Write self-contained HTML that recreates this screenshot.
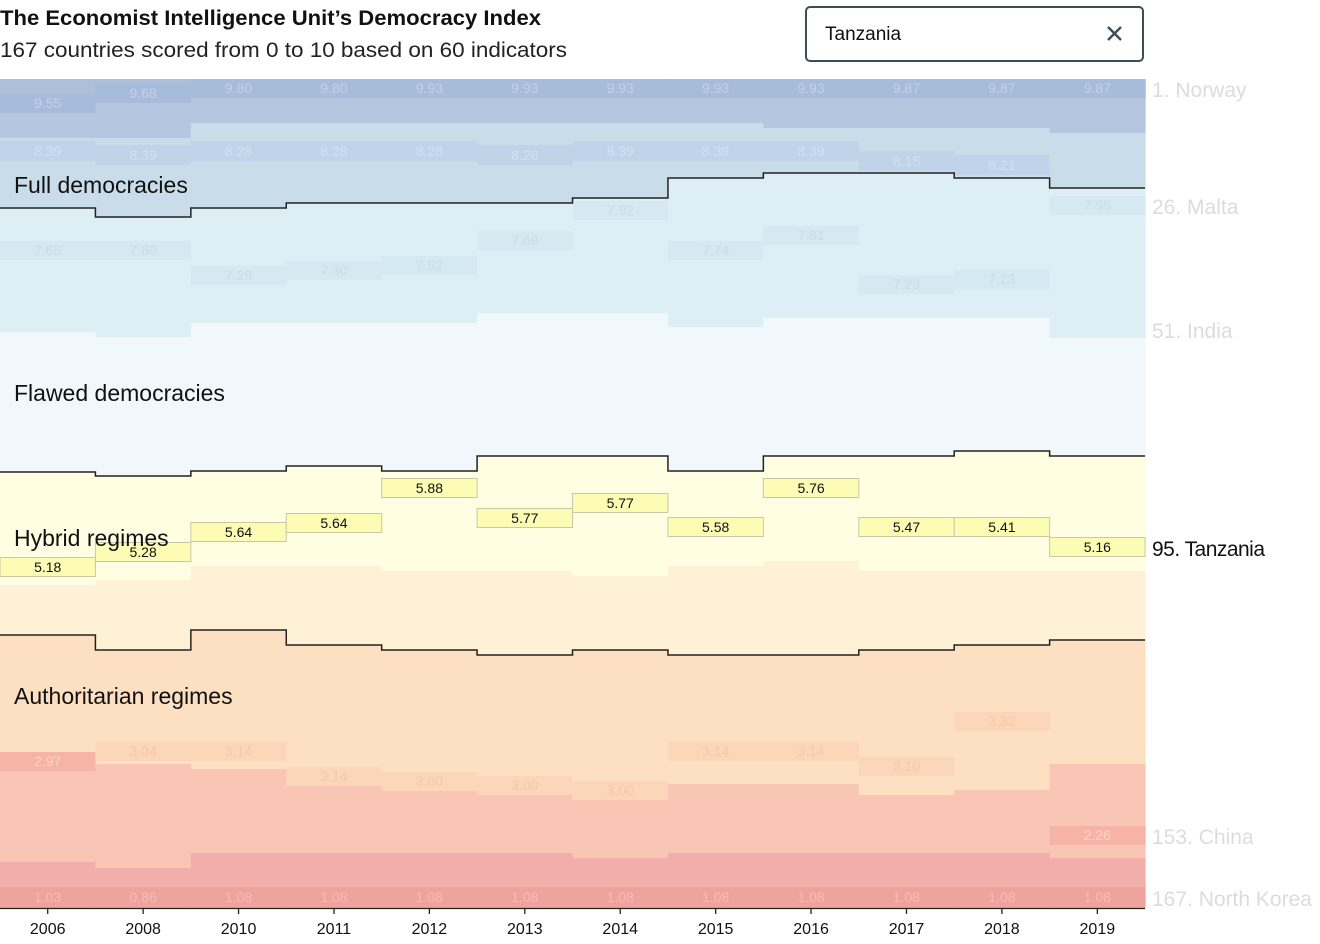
<!DOCTYPE html>
<html><head><meta charset="utf-8"><style>
body{margin:0;background:#fff;width:1320px;height:944px;overflow:hidden;font-family:"Liberation Sans",sans-serif}
svg{position:absolute;left:0;top:0}
</style></head><body>
<svg id="s" width="1320" height="944" xmlns="http://www.w3.org/2000/svg"></svg>
<script>
const W=95.42;
const fd=[208,217,208,203,203,203,198,178,173,173,178,188];
const de=[332,337,323,323,323,313,313,327,318,318,318,338];
const fh=[472,476,471,466,471,456,456,471,456,456,451,456];
const fg=[585,580,566,566,571,571,576,566,561,571,571,571];
const tz=[567,552,532,523,488,518,503,527,488,527,527,547];
const tzv=["5.18","5.28","5.64","5.64","5.88","5.77","5.77","5.58","5.76","5.47","5.41","5.16"];
const ha=[635,650,630,645,650,655,650,655,655,650,645,640];
const hi=[771,764,769,785,786,792,800,784,784,795,790,764];
const ij=[862,868,853,853,853,853,858,853,853,853,853,858];
const ab=[113,103,98,98,98,98,98,98,98,98,98,98];
const bc=[138,138,123,123,123,123,123,123,128,128,128,133];
const nr=[[94,"9.55"],[84,"9.68"],[79,"9.80"],[79,"9.80"],[79,"9.93"],[79,"9.93"],[79,"9.93"],[79,"9.93"],[79,"9.93"],[79,"9.87"],[79,"9.87"],[79,"9.87"]];
const cr=[[141,"8.39"],[145,"8.39"],[141,"8.28"],[141,"8.28"],[141,"8.28"],[145,"8.28"],[141,"8.39"],[141,"8.39"],[141,"8.39"],[151,"8.15"],[155,"8.21"],null];
const dr=[[241,"7.68"],[241,"7.80"],[266,"7.28"],[261,"7.30"],[256,"7.52"],[231,"7.69"],[201,"7.92"],[241,"7.74"],[226,"7.81"],[275,"7.23"],[270,"7.23"],[196,"7.95"]];
const hr=[[752,"2.97",'#f6b4a6'],[742,"3.04",'#fcd6b8'],[742,"3.14",'#fcd6b8'],[767,"3.14",'#fcd6b8'],[772,"3.00",'#fcd6b8'],[776,"3.00",'#fcd6b8'],[781,"3.00",'#fcd6b8'],[742,"3.14",'#fcd6b8'],[742,"3.14",'#fcd6b8'],[757,"3.10",'#fcd6b8'],[712,"3.32",'#fcd6b8'],[826,"2.26",'#f6b4a6']];
const nk=["1.03","0.86","1.08","1.08","1.08","1.08","1.08","1.08","1.08","1.08","1.08","1.08"];
const yrs=["2006","2008","2010","2011","2012","2013","2014","2015","2016","2017","2018","2019"];
let h='';
function R(x,y,w,hh,c,extra=''){h+=`<rect x="${x}" y="${y}" width="${w}" height="${hh}" fill="${c}" ${extra}/>`;}
function T(x,y,t,c,sz=14,a='middle',ex=''){h+=`<text x="${x}" y="${y}" fill="${c}" font-size="${sz}" text-anchor="${a}" font-family="Liberation Sans, sans-serif" ${ex}>${t}</text>`;}
for(let i=0;i<12;i++){
 const x=i*W,w=W+0.6;
 R(x,79,w,ab[i]-79,'#aebfdc');
 R(x,nr[i][0],w,19,'#a7bbda');
 R(x,ab[i],w,bc[i]-ab[i],'#b5c6e0');
 R(x,bc[i],w,fd[i]-bc[i],'#c9dcea');
 if(cr[i])R(x,cr[i][0],w,20,'#bfd4e9');
 R(x,fd[i],w,de[i]-fd[i],'#ddeef5');
 R(x,dr[i][0],w,19,'#d4e9f1');
 R(x,de[i],w,fh[i]-de[i],'#f1f8fb');
 R(x,fh[i],w,fg[i]-fh[i],'#fffee2');
 R(x,fg[i],w,ha[i]-fg[i],'#fff1d6');
 R(x,ha[i],w,hi[i]-ha[i],'#fddfc2');
 R(x,hi[i],w,ij[i]-hi[i],'#f9c5b4');
 R(x,hr[i][0],w,19,hr[i][2]);
 R(x,ij[i],w,887-ij[i],'#f1aeaa');
 R(x,887,w,21,'#efa39d');
}
for(let i=0;i<12;i++){const x=i*W,cx=x+W/2;
 T(cx,nr[i][0]+14,nr[i][1],'#c4d1e8');
 if(cr[i])T(cx,cr[i][0]+15,cr[i][1],'#d3e0ef');
 T(cx,dr[i][0]+14,dr[i][1],'#c8dde8');
 T(cx,hr[i][0]+14,hr[i][1],hr[i][2]=='#f6b4a6'?'#fad3c8':'#f3c9a8');
 T(cx,902,nk[i],'#f4bdb7');
}
for(let i=0;i<12;i++){const x=i*W,cx=x+W/2;
 R(x,tz[i]-9.5,W,19,'#fdfcb4','stroke="#c9c8a6" stroke-width="1"');
 T(cx,tz[i]+5,tzv[i],'#111',14);
}
function step(a){let d=`M0 ${a[0]}`;for(let i=0;i<12;i++){d+=` L${i*W} ${a[i]} L${(i+1)*W} ${a[i]}`;}h+=`<path d="${d}" fill="none" stroke="#222" stroke-width="1.5"/>`;}
step(fd);step(fh);step(ha);
h+=`<line x1="0" y1="908.5" x2="1145" y2="908.5" stroke="#222" stroke-width="1.3"/>`;
for(let i=0;i<12;i++){const cx=i*W+W/2;h+=`<line x1="${cx}" y1="908" x2="${cx}" y2="914" stroke="#222" stroke-width="1.3"/>`;T(cx,934,yrs[i],'#111',16);}
T(14,193,'Full democracies','#111',23,'start');
T(14,401,'Flawed democracies','#111',23,'start');
T(14,546,'Hybrid regimes','#111',23,'start');
T(14,704,'Authoritarian regimes','#111',23,'start');
T(1152,97,'1. Norway','#dcdcdc',21,'start');
T(1152,214,'26. Malta','#dcdcdc',21,'start');
T(1152,338,'51. India','#dcdcdc',21,'start');
T(1152,556,'95. Tanzania','#111',21,'start','textLength="113"');
T(1152,844,'153. China','#dcdcdc',21,'start');
T(1152,906,'167. North Korea','#dcdcdc',21,'start');
T(0,25,'The Economist Intelligence Unit’s Democracy Index','#111',21,'start','font-weight="bold" textLength="541" lengthAdjust="spacingAndGlyphs"');
T(0,57,'167 countries scored from 0 to 10 based on 60 indicators','#222',21,'start','textLength="567" lengthAdjust="spacingAndGlyphs"');
h+=`<rect x="806" y="7" width="337" height="54" rx="4" fill="#fff" stroke="#3d4d57" stroke-width="2"/>`;
T(825,40,'Tanzania','#111',19,'start');
h+=`<path d="M1108 27 L1121 40 M1121 27 L1108 40" stroke="#3d4d57" stroke-width="2.4"/>`;
document.getElementById('s').innerHTML=h;
</script>
</body></html>
